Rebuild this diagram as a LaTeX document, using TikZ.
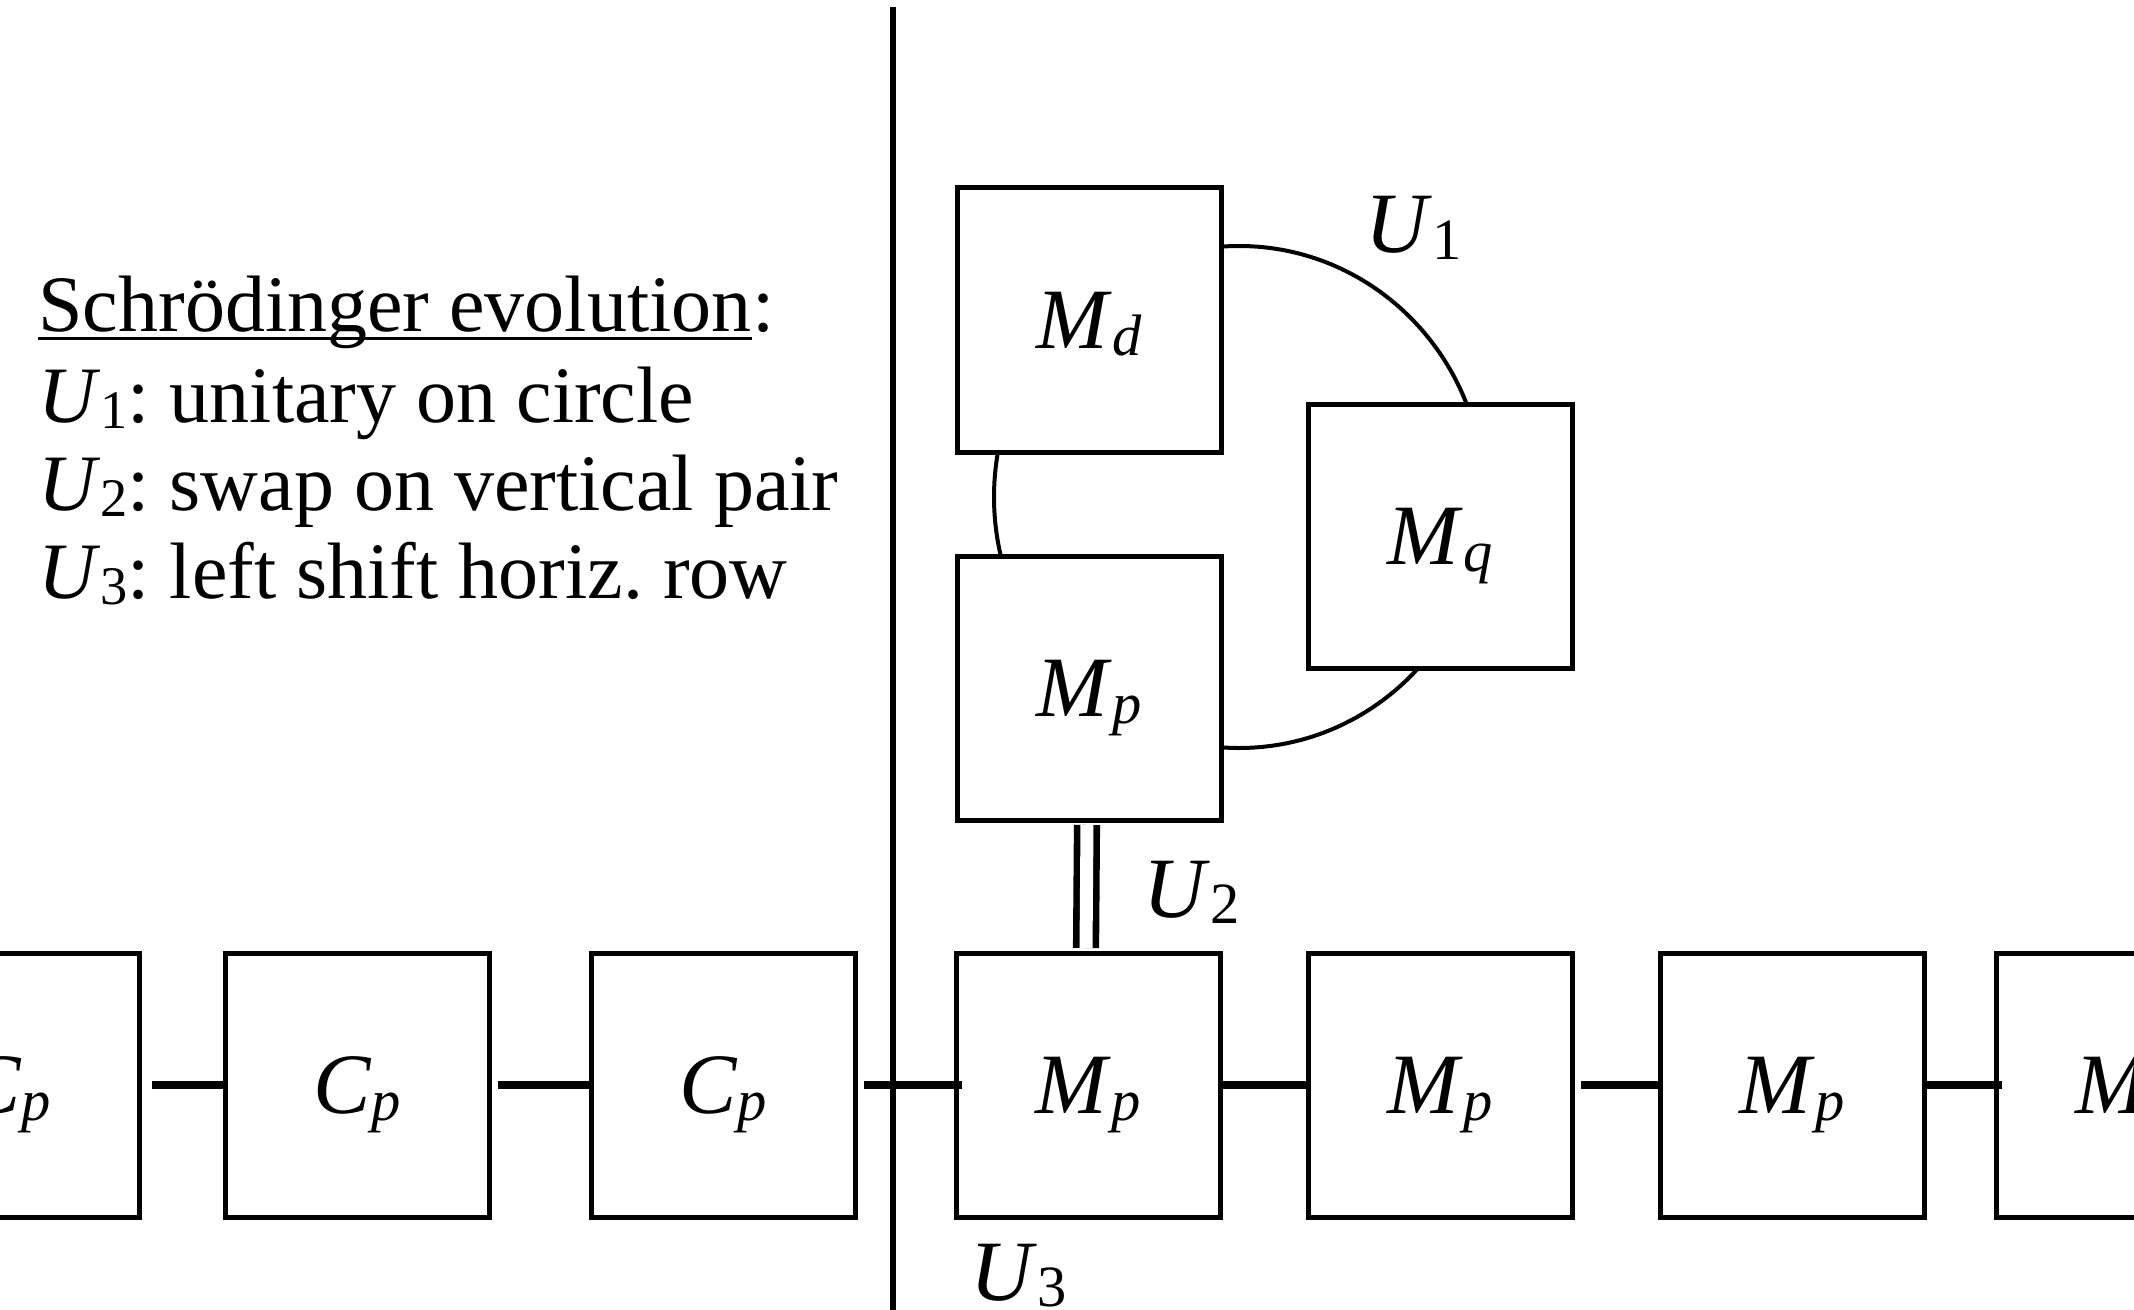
\documentclass[tikz,border=0pt]{standalone}
\usepackage{fontspec}
\setmainfont{Liberation Serif}
\newcommand{\sbs}[2]{\textit{#1}\raisebox{-0.08em}{\scalebox{0.68}{#2}}}
\begin{document}
\frenchspacing
\begin{tikzpicture}[x=0.5pt,y=-0.5pt,
  box/.style={draw, line width=2.5pt, fill=white, minimum size=132pt, inner sep=0pt, text depth=0pt, font=\fontsize{43}{50}\selectfont},
  link/.style={line width=4pt},
  ring/.style={line width=2pt},
  swapline/.style={line width=3.3pt, double, double distance=6.5pt, shorten <=1.25pt, shorten >=1.25pt},
  cut/.style={line width=2.75pt},
  lbl/.style={font=\fontsize{43}{50}\selectfont, inner sep=0pt, anchor=base west},
  txt/.style={font=\fontsize{40}{46}\selectfont\frenchspacing, inner sep=0pt, anchor=base west}]
\useasboundingbox (0,0) rectangle (2134,1310);
\clip (0,0) rectangle (2134,1310);
% circle of U1 (drawn first, boxes hide the inner parts)
\coordinate (ringc) at (1239,497);
\draw[ring] (ringc) ellipse [x radius=122.5pt, y radius=125.5pt];
% upper boxes
\node[box] (md) at (1089,320) {\sbs{M}{\textit{d}}};
\node[box] (mq) at (1440,536) {\sbs{M}{\textit{q}}};
\node[box] (mpu) at (1089,688) {\sbs{M}{\textit{p}}};
% row
\node[box] (cp1) at (7,1085) {\sbs{C}{\textit{p}}};
\node[box] (cp2) at (357,1085) {\sbs{C}{\textit{p}}};
\node[box] (cp3) at (723,1085) {\sbs{C}{\textit{p}}};
\node[box] (mp1) at (1088,1085) {\sbs{M}{\textit{p}}};
\node[box] (mp2) at (1440,1085) {\sbs{M}{\textit{p}}};
\node[box] (mp3) at (1792,1085) {\sbs{M}{\textit{p}}};
\node[box] (mp4) at (2128,1085) {\sbs{M}{\textit{p}}};
% row connectors
\draw[link] ([xshift=5pt]cp1.east) -- (cp2.west);
\draw[link] ([xshift=3pt]cp2.east) -- (cp3.west);
\draw[link] ([xshift=3pt]cp3.east) -- ([xshift=4pt]mp1.west);
\draw[link] (mp1.east) -- (mp2.west);
\draw[link] ([xshift=3pt]mp2.east) -- (mp3.west);
\draw[link] (mp3.east) -- ([xshift=4pt]mp4.west);
% swap
\draw[swapline] ([xshift=-1pt]mpu.south) -- ([xshift=-1pt]mp1.north);
% dividing line
\coordinate (vtop) at (893,7);
\coordinate (vbot) at (893,1310);
\draw[cut] (vtop) -- (vbot);
% labels
\node[lbl] (u1) at (1365,253) {\sbs{U}{1}};
\node[lbl] (u2) at (1143,917) {\sbs{U}{2}};
\node[lbl] (u3) at (970,1300) {\sbs{U}{3}};
% legend
\node[txt] (t1) at (38,332) {Schrödinger evolution};
\node[txt] (t1c) at (t1.base east) {:};
\draw[line width=1.5pt] ([yshift=-3.5pt]t1.base west) -- ([yshift=-3.5pt]t1.base east);
\node[txt] (t2) at (38,422) {\sbs{U}{1}: unitary on circle};
\node[txt] (t3) at (38,510) {\sbs{U}{2}: swap on vertical pair};
\node[txt] (t4) at (38,598) {\sbs{U}{3}: left shift horiz. row};
\end{tikzpicture}
\end{document}
